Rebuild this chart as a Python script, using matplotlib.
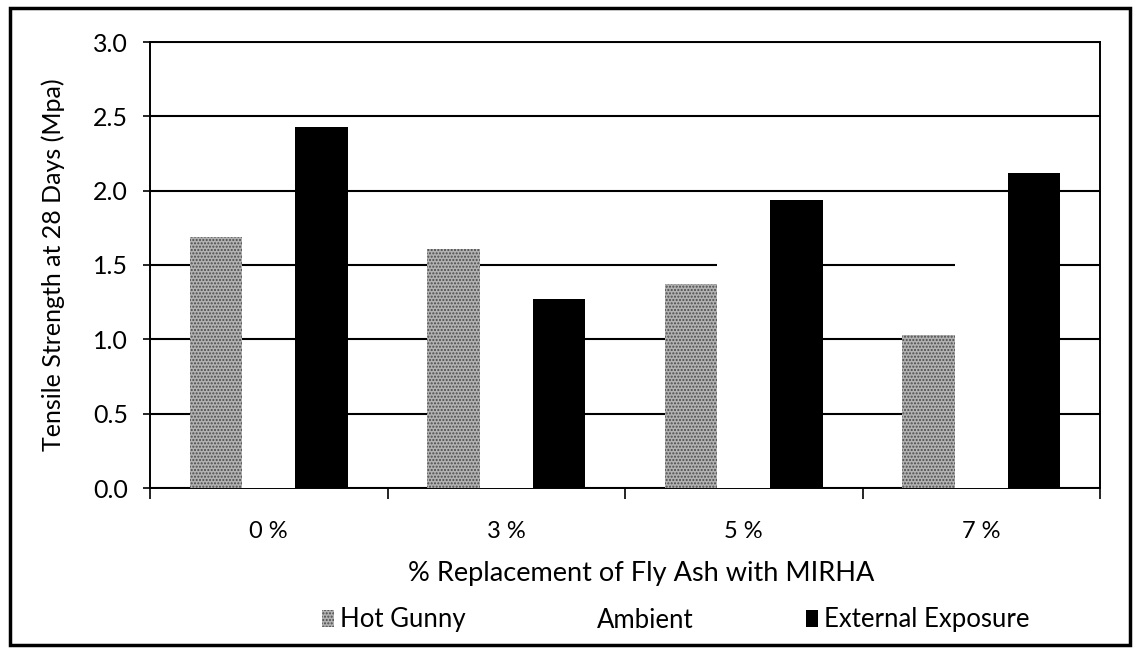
import matplotlib
matplotlib.use('agg')
import matplotlib.pyplot as plt
from matplotlib.patches import Rectangle, Patch
import numpy as np

# values
categories = ['0 %', '3 %', '5 %', '7 %']
hot_gunny = [1.69, 1.61, 1.37, 1.03]
ambient = [0.85, 1.30, 1.70, 1.65]        # white bars, only seen where they hide the grid
external_exposure = [2.43, 1.27, 1.94, 2.12]

plt.rcParams['font.family'] = ['Lato', 'DejaVu Sans']
plt.rcParams['hatch.linewidth'] = 1.0

fig = plt.figure(figsize=(11.38, 6.51), dpi=100)
ax = fig.add_axes([150 / 1138, 1 - 488 / 651, 950 / 1138, 446 / 651])

x = np.arange(len(categories))
w = 0.222
gunny_face = '#b2b2b2'
gunny_dots = '#4a4a4a'

ax.bar(x - w, hot_gunny, w, color=gunny_face, edgecolor=gunny_dots, hatch='.....',
       linewidth=0, zorder=3, label='Hot Gunny')
ax.bar(x, ambient, w, color='white', linewidth=0, zorder=3, label='Ambient')
ax.bar(x + w, external_exposure, w, color='black', linewidth=0, zorder=3,
       label='External Exposure')

ax.set_xlim(-0.5, 3.5)
ax.set_ylim(0, 3.0)
yt = np.arange(0, 3.01, 0.5)
ax.set_yticks(yt)
ax.set_yticklabels(['%.1f' % v for v in yt])
ax.set_xticks(x)
ax.set_xticklabels(categories)
ax.set_xticks(np.arange(-0.5, 4, 1), minor=True)

ax.yaxis.grid(True, color='black', linewidth=1.5, zorder=1)
ax.set_axisbelow(True)

ax.tick_params(axis='y', direction='inout', length=10, width=1.2, labelsize=18, pad=11)
ax.tick_params(axis='x', which='major', length=0, labelsize=17, pad=24)
ax.tick_params(axis='x', which='minor', direction='out', length=8, width=1.2)

for s in ax.spines.values():
    s.set_color('black')
    s.set_linewidth(1.4)

ax.set_ylabel('Tensile Strength at 28 Days (Mpa)', fontsize=18, labelpad=20)
ax.set_xlabel('% Replacement of Fly Ash with MIRHA', fontsize=19.5)
ax.xaxis.set_label_coords(0.517, -0.163)

handles = [Patch(facecolor=gunny_face, edgecolor=gunny_dots, hatch='.....', linewidth=0),
           Patch(facecolor='white', linewidth=0),
           Patch(facecolor='black', linewidth=0)]
fig.legend(handles, ['Hot Gunny', 'Ambient', 'External Exposure'],
           loc='center', bbox_to_anchor=(676 / 1138, 1 - 620 / 651), ncol=3, frameon=False,
           fontsize=18.5, handlelength=0.45, handleheight=0.6, handletextpad=0.25,
           columnspacing=4.4)

# outer border of the scanned figure
fig.patches.append(Rectangle((10 / 1138, 6 / 651), 1120 / 1138, 637 / 651,
                             transform=fig.transFigure, fill=False,
                             edgecolor='black', linewidth=2.5))

plt.savefig('out.png', dpi=100)
